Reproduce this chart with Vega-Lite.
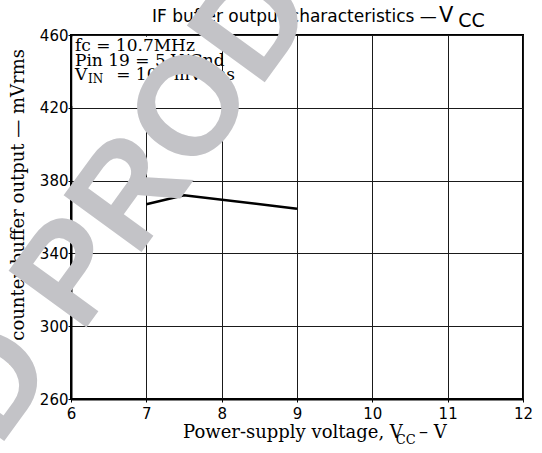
{
  "$schema": "https://vega.github.io/schema/vega-lite/v6.json",
  "width": 452,
  "height": 364,
  "autosize": {"type": "none"},
  "padding": {"left": 71, "top": 35, "right": 19, "bottom": 54},
  "background": "white",
  "config": {
    "view": {"stroke": "black", "strokeWidth": 2},
    "axis": {
      "grid": true,
      "gridColor": "#1a1a1a",
      "gridWidth": 1,
      "gridOpacity": 1,
      "domainColor": "black",
      "domainWidth": 2,
      "tickColor": "black",
      "tickSize": 3,
      "labelFont": "DejaVu Sans",
      "labelFontSize": 15,
      "labelColor": "black"
    }
  },
  "datasets": {
    "curve": [
      {"vcc": 7.0, "mv": 367},
      {"vcc": 7.5, "mv": 372},
      {"vcc": 9.0, "mv": 364.5}
    ],
    "box": [{"x1": 6.02, "x2": 7.99, "y1": 421, "y2": 459}]
  },
  "layer": [
    {
      "data": {"name": "box"},
      "mark": {"type": "rect", "fill": "white", "stroke": null},
      "encoding": {
        "x": {"field": "x1", "type": "quantitative", "scale": {"domain": [6, 12], "nice": false, "zero": false},
          "axis": {"values": [6, 7, 8, 9, 10, 11, 12], "format": "d", "labelPadding": 4, "title": null, "labelFlush": false}},
        "x2": {"field": "x2"},
        "y": {"field": "y1", "type": "quantitative", "scale": {"domain": [260, 460], "nice": false, "zero": false},
          "axis": {"values": [260, 300, 340, 380, 420, 460], "format": "d", "labelPadding": 0, "labelFlush": false,
            "title": "IF counter buffer output — mVrms", "titleFont": "DejaVu Serif", "titleFontSize": 18,
            "titleFontWeight": "normal", "titleColor": "black", "titleAngle": -90, "titleX": -53, "titleY": 172,
            "titleAlign": "center", "titleBaseline": "middle"}},
        "y2": {"field": "y2"}
      }
    },
    {
      "data": {"name": "curve"},
      "mark": {"type": "line", "color": "black", "strokeWidth": 2.5},
      "encoding": {
        "x": {"field": "vcc", "type": "quantitative"},
        "y": {"field": "mv", "type": "quantitative"}
      }
    },
    {
      "data": {"values": [
        {"t": "fc = 10.7MHz", "vx": 6.053, "vy": 451.2},
        {"t": "Pin 19 = 5 V/Gnd", "vx": 6.053, "vy": 443.0},
        {"t": "V", "vx": 6.053, "vy": 435.3},
        {"t": "= 100 mVrms", "vx": 6.6, "vy": 435.3}
      ]},
      "mark": {"type": "text", "font": "DejaVu Serif", "fontSize": 17, "align": "left", "baseline": "alphabetic", "color": "black"},
      "encoding": {
        "x": {"field": "vx", "type": "quantitative"},
        "y": {"field": "vy", "type": "quantitative"},
        "text": {"field": "t"}
      }
    },
    {
      "data": {"values": [{"t": "IN", "vx": 6.225, "vy": 433.6}]},
      "mark": {"type": "text", "font": "DejaVu Serif", "fontSize": 12, "align": "left", "baseline": "alphabetic", "color": "black"},
      "encoding": {
        "x": {"field": "vx", "type": "quantitative"},
        "y": {"field": "vy", "type": "quantitative"},
        "text": {"field": "t"}
      }
    },
    {
      "data": {"values": [
        {"t": "IF buffer output characteristics —", "vx": 7.075, "vy": 467.14}
      ]},
      "mark": {"type": "text", "font": "DejaVu Sans", "fontSize": 17, "align": "left", "baseline": "alphabetic", "color": "black"},
      "encoding": {
        "x": {"field": "vx", "type": "quantitative"},
        "y": {"field": "vy", "type": "quantitative"},
        "text": {"field": "t"}
      }
    },
    {
      "data": {"values": [{"t": "V", "vx": 10.885, "vy": 467.14}]},
      "mark": {"type": "text", "font": "DejaVu Sans", "fontSize": 21, "align": "left", "baseline": "alphabetic", "color": "black"},
      "encoding": {
        "x": {"field": "vx", "type": "quantitative"},
        "y": {"field": "vy", "type": "quantitative"},
        "text": {"field": "t"}
      }
    },
    {
      "data": {"values": [{"t": "CC", "vx": 11.14, "vy": 464.56}]},
      "mark": {"type": "text", "font": "DejaVu Sans", "fontSize": 19, "align": "left", "baseline": "alphabetic", "color": "black"},
      "encoding": {
        "x": {"field": "vx", "type": "quantitative"},
        "y": {"field": "vy", "type": "quantitative"},
        "text": {"field": "t"}
      }
    },
    {
      "data": {"values": [
        {"t": "Power-supply voltage, V", "vx": 7.487, "vy": 238.6},
        {"t": "– V", "vx": 10.62, "vy": 238.6}
      ]},
      "mark": {"type": "text", "font": "DejaVu Serif", "fontSize": 18, "align": "left", "baseline": "alphabetic", "color": "black"},
      "encoding": {
        "x": {"field": "vx", "type": "quantitative"},
        "y": {"field": "vy", "type": "quantitative"},
        "text": {"field": "t"}
      }
    },
    {
      "data": {"values": [{"t": "CC", "vx": 10.31, "vy": 235.3}]},
      "mark": {"type": "text", "font": "DejaVu Serif", "fontSize": 13, "align": "left", "baseline": "alphabetic", "color": "black"},
      "encoding": {
        "x": {"field": "vx", "type": "quantitative"},
        "y": {"field": "vy", "type": "quantitative"},
        "text": {"field": "t"}
      }
    },
    {
      "data": {"values": [{"t": "PRODUCT", "vx": 6.133, "vy": 295.1}]},
      "mark": {"type": "text", "font": "Liberation Sans", "fontWeight": "bold", "fontSize": 140, "angle": 306, "align": "left", "baseline": "alphabetic", "color": "#c3c3c7"},
      "encoding": {
        "x": {"field": "vx", "type": "quantitative"},
        "y": {"field": "vy", "type": "quantitative"},
        "text": {"field": "t"}
      }
    },
    {
      "data": {"values": [{"t": "DISCONTINUED", "vx": 5.829, "vy": 277.7}]},
      "mark": {"type": "text", "font": "Liberation Sans", "fontWeight": "bold", "fontSize": 140, "angle": 306, "align": "right", "baseline": "alphabetic", "color": "#c3c3c7"},
      "encoding": {
        "x": {"field": "vx", "type": "quantitative"},
        "y": {"field": "vy", "type": "quantitative"},
        "text": {"field": "t"}
      }
    }
  ]
}
